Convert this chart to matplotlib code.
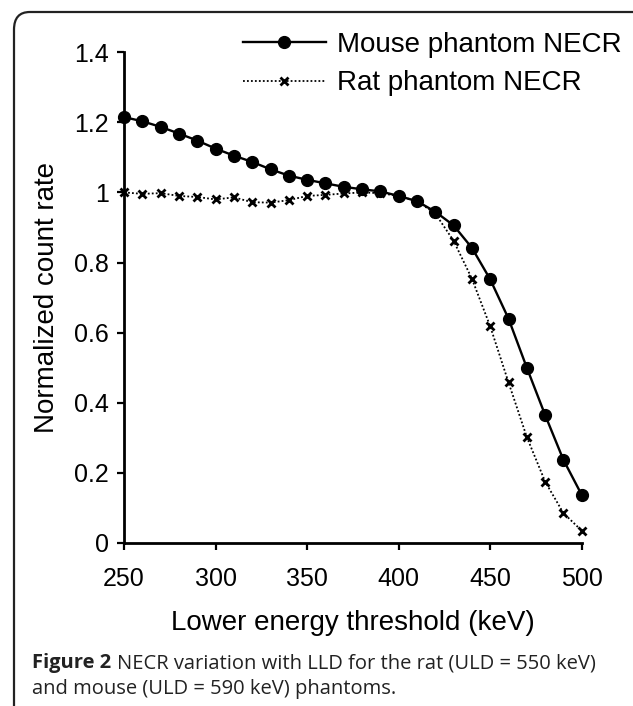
import matplotlib.pyplot as plt
from matplotlib.patches import FancyBboxPatch

plt.rcParams['font.family'] = ['Liberation Sans', 'DejaVu Sans']

# Lower energy threshold (keV)
lld = [250, 260, 270, 280, 290, 300, 310, 320, 330, 340, 350, 360, 370,
       380, 390, 400, 410, 420, 430, 440, 450, 460, 470, 480, 490, 500]

mouse_necr = [1.215, 1.203, 1.187, 1.168, 1.148, 1.125, 1.105, 1.087, 1.066,
              1.048, 1.036, 1.026, 1.016, 1.009, 1.003, 0.990, 0.975, 0.945,
              0.906, 0.842, 0.752, 0.640, 0.500, 0.365, 0.237, 0.137]

rat_necr = [1.000, 0.996, 0.998, 0.990, 0.987, 0.980, 0.986, 0.972, 0.971,
            0.978, 0.990, 0.993, 0.997, 1.000, 0.998, 0.990, 0.975, 0.940,
            0.862, 0.754, 0.618, 0.458, 0.302, 0.175, 0.085, 0.035]

xticks = [250, 300, 350, 400, 450, 500]
yticks = [0, 0.2, 0.4, 0.6, 0.8, 1, 1.2, 1.4]
ytick_labels = ["0", "0.2", "0.4", "0.6", "0.8", "1", "1.2", "1.4"]

fig = plt.figure(figsize=(6.33, 7.06), dpi=100)
ax = fig.add_axes([0.196, 0.231, 0.723, 0.695])

ax.plot(lld, mouse_necr, color="black", lw=1.7, marker="o", ms=8.5,
        label="Mouse phantom NECR", clip_on=False, zorder=3)
ax.plot(lld, rat_necr, color="black", lw=1.3, ls=(0, (1, 1.2)), marker="x",
        ms=6, mew=2, label="Rat phantom NECR", clip_on=False, zorder=2)

ax.set_xlim(250, 500)
ax.set_ylim(0, 1.4)
ax.set_xticks(xticks)
ax.set_yticks(yticks)
ax.set_yticklabels(ytick_labels)
ax.tick_params(direction="out", length=5, width=1.6, labelsize=18)
ax.tick_params(axis="x", pad=12)
ax.tick_params(axis="y", pad=6)
for s in ["top", "right"]:
    ax.spines[s].set_visible(False)
for s in ["left", "bottom"]:
    ax.spines[s].set_linewidth(2)

ax.set_xlabel("Lower energy threshold (keV)", fontsize=20, labelpad=14)
ax.set_ylabel("Normalized count rate", fontsize=20, labelpad=10)

ax.legend(loc="upper right", bbox_to_anchor=(0.982, 0.955),
          bbox_transform=fig.transFigure, frameon=False, fontsize=20,
          handlelength=3.0, handletextpad=0.4, labelspacing=0.45,
          borderaxespad=0, borderpad=0)

# rounded frame around the figure panel
frame = FancyBboxPatch((14 / 633, -0.1), 1.2, 1.1 - 12 / 706,
                       boxstyle="round,pad=0,rounding_size=0.025",
                       transform=fig.transFigure, fill=False,
                       edgecolor="#222222", lw=1.6, clip_on=False)
fig.patches.append(frame)

cap_kw = dict(fontsize=14.5, family="Open Sans", va="center", color="#222222")
fig.text(32 / 633, 1 - 663 / 706, "Figure 2", fontweight="bold", **cap_kw)
fig.text(117 / 633, 1 - 663 / 706,
         "NECR variation with LLD for the rat (ULD = 550 keV)", **cap_kw)
fig.text(32 / 633, 1 - 689 / 706, "and mouse (ULD = 590 keV) phantoms.",
         **cap_kw)

fig.savefig("out.png", dpi=100)
